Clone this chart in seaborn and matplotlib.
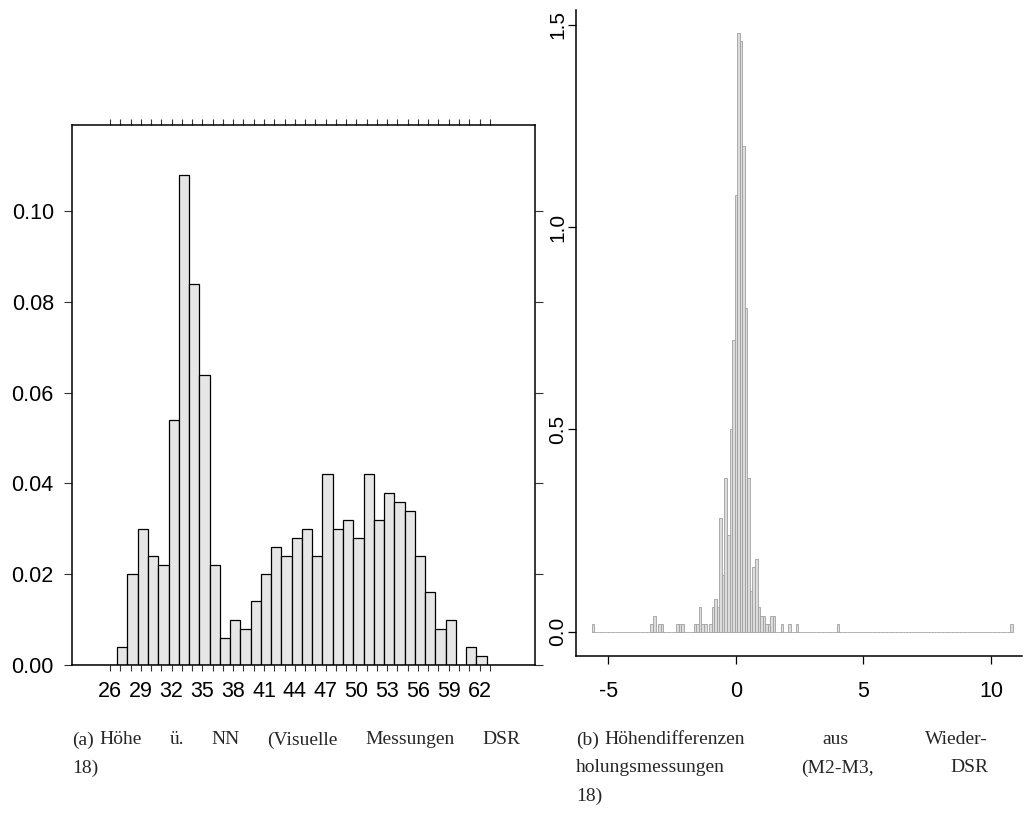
import numpy as np
import matplotlib
matplotlib.use('Agg')
import matplotlib.pyplot as plt
import seaborn as sns

sns.set_theme(style='white')
plt.rcParams['font.family'] = ['Liberation Sans', 'DejaVu Sans']

# ---------------- Panel (a): Höhe ü. NN ----------------
hoehe_bin_centers = [27.2, 28.2, 29.2, 30.2, 31.2, 32.2, 33.2, 34.2, 35.2, 36.2,
                     37.2, 38.2, 39.2, 40.2, 41.2, 42.2, 43.2, 44.2, 45.2, 46.2,
                     47.2, 48.2, 49.2, 50.2, 51.2, 52.2, 53.2, 54.2, 55.2, 56.2,
                     57.2, 58.2, 59.2, 60.2, 61.2, 62.2]
hoehe_density = [0.004, 0.020, 0.030, 0.024, 0.022, 0.054, 0.108, 0.084, 0.064, 0.022,
                 0.006, 0.010, 0.008, 0.014, 0.020, 0.026, 0.024, 0.028, 0.030, 0.024,
                 0.042, 0.030, 0.032, 0.028, 0.042, 0.032, 0.038, 0.036, 0.034, 0.024,
                 0.016, 0.008, 0.010, 0.000, 0.004, 0.002]
hoehe_ticks = list(range(26, 64))
hoehe_tick_labels = ['26', '29', '32', '35', '38', '41', '44', '47', '50', '53', '56', '59', '62']
hoehe_yticks = [0.00, 0.02, 0.04, 0.06, 0.08, 0.10]
hoehe_yticklabels = ['0.00', '0.02', '0.04', '0.06', '0.08', '0.10']

# ---------------- Panel (b): Höhendifferenzen ----------------
diff_bin_centers = [-5.6, -3.3, -3.2, -3.0, -2.9, -2.3, -2.2, -2.1, -1.6, -1.5,
                    -1.4, -1.3, -1.2, -1.0, -0.9, -0.8, -0.7, -0.6, -0.5, -0.4,
                    -0.3, -0.2, -0.1, 0.0, 0.1, 0.2, 0.3, 0.4, 0.5, 0.6,
                    0.7, 0.8, 0.9, 1.0, 1.1, 1.2, 1.3, 1.4, 1.5, 1.8,
                    2.1, 2.4, 4.0, 10.8]
diff_density = [0.02, 0.02, 0.04, 0.02, 0.02, 0.02, 0.02, 0.02, 0.02, 0.02,
                0.06, 0.02, 0.02, 0.02, 0.06, 0.08, 0.06, 0.28, 0.14, 0.38,
                0.24, 0.50, 0.72, 1.08, 1.48, 1.46, 1.20, 0.80, 0.38, 0.10,
                0.16, 0.18, 0.06, 0.04, 0.04, 0.02, 0.02, 0.04, 0.04, 0.02,
                0.02, 0.02, 0.02, 0.02]
diff_xticks = [-5, 0, 5, 10]
diff_xticklabels = ['-5', '0', '5', '10']
diff_yticks = [0.0, 0.5, 1.0, 1.5]
diff_yticklabels = ['0.0', '0.5', '1.0', '1.5']

caption_a_label = '(a)'
caption_a = ['Höhe ü. NN (Visuelle Messungen DSR', '18)']
caption_b_label = '(b)'
caption_b = ['Höhendifferenzen aus Wieder-', 'holungsmessungen (M2-M3, DSR', '18)']

W, H = 1026, 835
fig = plt.figure(figsize=(W / 100, H / 100), dpi=100)
PT = 72 / 100  # points per pixel

def px_axes(l, t, r, b):
    return fig.add_axes([l / W, 1 - b / H, (r - l) / W, (b - t) / H])

TICK_FS = 15.5

# ---------- Left panel ----------
ax1 = px_axes(72, 125, 535, 665)
sns.histplot(x=hoehe_bin_centers, weights=hoehe_density, binwidth=1.0,
             binrange=(21.7, 67.7), stat='count',
             ax=ax1, color='#e6e6e6', edgecolor='black', linewidth=0.9, alpha=1)
ax1.set_xlim(22.3, 67.4)
ax1.set_ylim(0, 0.119)
ax1.set_xlabel('')
ax1.set_ylabel('')
ax1.set_xticks(hoehe_ticks)
ax1.set_xticklabels([str(v) if str(v) in hoehe_tick_labels else '' for v in hoehe_ticks])
ax1.set_yticks(hoehe_yticks)
ax1.set_yticklabels(hoehe_yticklabels)
ax1.tick_params(axis='x', which='major', direction='out', length=6 * PT, width=0.8,
                color='#333333', top=True, bottom=True, labeltop=False,
                labelsize=TICK_FS, pad=10 * PT, labelcolor='black')
ax1.tick_params(axis='y', which='major', direction='out', length=7.7 * PT, width=0.8,
                color='#333333', left=True, right=True, labelright=False,
                labelsize=TICK_FS, pad=10.5 * PT, labelcolor='black')
for s in ax1.spines.values():
    s.set_visible(True)
    s.set_color('black')
    s.set_linewidth(1.1)
ax1.grid(False)

# ---------- Right panel ----------
ax2 = px_axes(576, 10, 1022, 656)
sns.histplot(x=diff_bin_centers, weights=diff_density, binwidth=0.1,
             binrange=(-5.65, 10.85), stat='count',
             ax=ax2, color='#dcdcdc', edgecolor='#a0a0a0', linewidth=0.6, alpha=1)
ax2.set_xlim(-6.27, 11.22)
ax2.set_ylim(-0.060, 1.537)
ax2.set_xlabel('')
ax2.set_ylabel('')
ax2.set_xticks(diff_xticks)
ax2.set_xticklabels(diff_xticklabels)
ax2.set_yticks(diff_yticks)
ax2.set_yticklabels(diff_yticklabels, rotation=90, va='center')
ax2.tick_params(axis='x', direction='out', length=8 * PT, width=0.9, color='black',
                bottom=True, labelsize=TICK_FS, pad=17 * PT, labelcolor='black')
ax2.tick_params(axis='y', direction='out', length=8 * PT, width=0.9, color='black',
                left=True, labelsize=15, pad=0.5, labelcolor='black')
sns.despine(ax=ax2, top=True, right=True)
for side in ('left', 'bottom'):
    ax2.spines[side].set_color('black')
    ax2.spines[side].set_linewidth(1.1)
ax2.grid(False)

# ---------- Captions (justified like LaTeX, fixed gap after the label) ----------
serif = ['Liberation Serif', 'DejaVu Serif']
CAP_FS = 14
LABEL_GAP = 6
renderer = fig.canvas.get_renderer()

def make_word(s, y):
    return fig.text(0, 1 - y / H, s, ha='left', va='center', fontsize=CAP_FS, family=serif)

def caption_line(x0, x1, y, line, justify):
    words = line.split(' ')
    if not justify or len(words) == 1:
        t = make_word(line, y)
        t.set_x(x0 / W)
        return
    arts = [make_word(w, y) for w in words]
    widths = [a.get_window_extent(renderer).width for a in arts]
    gap = (x1 - x0 - sum(widths)) / (len(words) - 1)
    x = x0
    for a, wdt in zip(arts, widths):
        a.set_x(x / W)
        x += wdt + gap

def caption(x0, x1, label, lines):
    line_y = [740, 768, 796]
    lab = make_word(label, line_y[0])
    lab.set_x(x0 / W)
    lw = lab.get_window_extent(renderer).width
    for i, line in enumerate(lines):
        start = x0 + lw + LABEL_GAP if i == 0 else x0
        caption_line(start, x1, line_y[i], line, justify=(i < len(lines) - 1))

caption(72, 520, caption_a_label, caption_a)
caption(576, 988, caption_b_label, caption_b)

fig.savefig('out.png', dpi=100)
